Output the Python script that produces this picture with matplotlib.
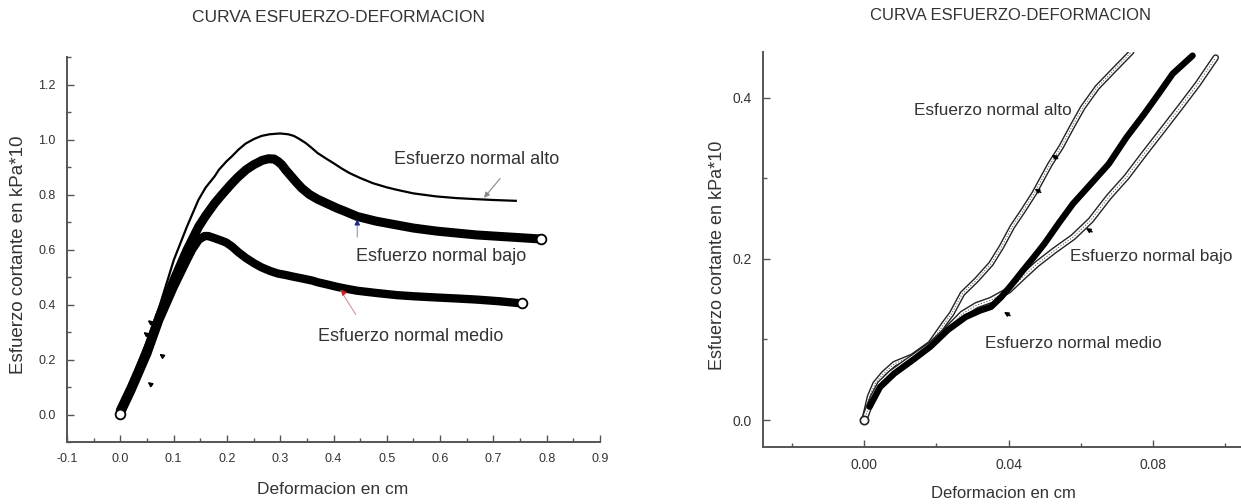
import matplotlib
matplotlib.use('Agg')
import matplotlib.pyplot as plt
from matplotlib.ticker import MultipleLocator, FormatStrFormatter

plt.rcParams['font.family'] = ['Liberation Sans', 'DejaVu Sans']
plt.rcParams['axes.unicode_minus'] = False

TITLE = "CURVA ESFUERZO-DEFORMACION"
XLABEL = "Deformacion en cm"
YLABEL = "Esfuerzo cortante en kPa*10"
LBL_ALTO = "Esfuerzo normal alto"
LBL_BAJO = "Esfuerzo normal bajo"
LBL_MEDIO = "Esfuerzo normal medio"

# ---------------- left panel data (full test) ----------------
alto_x = [0.0, 0.021, 0.0506, 0.073, 0.1004, 0.125, 0.1465, 0.16, 0.177, 0.185, 0.199, 0.21,
          0.2216, 0.235, 0.251, 0.265, 0.28, 0.2996, 0.315, 0.3257, 0.335, 0.348, 0.36, 0.370,
          0.385, 0.400, 0.415, 0.430, 0.45, 0.474, 0.5, 0.519, 0.55, 0.593, 0.63, 0.668,
          0.7, 0.742]
alto_y = [0.0, 0.124, 0.27, 0.39, 0.562, 0.683, 0.78, 0.825, 0.866, 0.89, 0.92, 0.94,
          0.963, 0.985, 1.002, 1.013, 1.019, 1.022, 1.019, 1.013, 1.003, 0.987, 0.968, 0.951,
          0.932, 0.914, 0.895, 0.878, 0.86, 0.841, 0.826, 0.817, 0.804, 0.793, 0.787, 0.783,
          0.780, 0.777]

bajo_x = [0.0, 0.0208, 0.0506, 0.073, 0.1004, 0.125, 0.147, 0.16, 0.177, 0.19, 0.2067, 0.22,
          0.236, 0.25, 0.266, 0.278, 0.2885, 0.296, 0.303, 0.31, 0.318, 0.33, 0.3405, 0.355,
          0.370, 0.39, 0.407, 0.42, 0.4446, 0.48, 0.519, 0.55, 0.593, 0.63, 0.668, 0.7,
          0.742, 0.790]
bajo_y = [0.015, 0.0997, 0.233, 0.355, 0.489, 0.598, 0.683, 0.722, 0.768, 0.798, 0.835, 0.862,
          0.89, 0.908, 0.924, 0.93, 0.929, 0.92, 0.908, 0.89, 0.872, 0.845, 0.823, 0.80,
          0.783, 0.765, 0.750, 0.74, 0.72, 0.703, 0.689, 0.678, 0.667, 0.66, 0.653, 0.649,
          0.644, 0.638]

medio_x = [0.0, 0.0208, 0.0506, 0.073, 0.1004, 0.125, 0.135, 0.147, 0.158, 0.165, 0.177, 0.19,
           0.199, 0.21, 0.2216, 0.235, 0.251, 0.265, 0.281, 0.295, 0.311, 0.325, 0.3405,
           0.36, 0.370, 0.39, 0.407, 0.425, 0.4446, 0.48, 0.519, 0.55, 0.593, 0.63, 0.668,
           0.71, 0.753]
medio_y = [0.002, 0.0875, 0.221, 0.343, 0.464, 0.562, 0.60, 0.635, 0.649, 0.649, 0.641, 0.632,
           0.625, 0.61, 0.590, 0.57, 0.550, 0.535, 0.522, 0.513, 0.507, 0.501, 0.495,
           0.487, 0.481, 0.472, 0.464, 0.457, 0.450, 0.442, 0.434, 0.43, 0.4255, 0.422, 0.418,
           0.412, 0.404]

# small stray arrow marks visible next to the curves (x, y)
left_marks_x = [0.047, 0.039, 0.069, 0.047]
left_marks_y = [0.349, 0.306, 0.227, 0.124]

# ---------------- right panel data (initial zone) ----------------
r_alto_x = [0.0, 0.0015, 0.003, 0.0054, 0.0084, 0.0133, 0.0183, 0.0222, 0.0242, 0.0272, 0.0311,
            0.0351, 0.038, 0.041, 0.044, 0.047, 0.049, 0.0515, 0.0545, 0.0575, 0.0605, 0.0645,
            0.069, 0.074]
r_alto_y = [0.0, 0.029, 0.045, 0.058, 0.070, 0.079, 0.095, 0.120, 0.132, 0.157, 0.174,
            0.194, 0.215, 0.240, 0.260, 0.281, 0.2975, 0.318, 0.339, 0.364, 0.388, 0.413,
            0.434, 0.457]

r_medio_x = [0.0015, 0.0044, 0.0084, 0.0133, 0.0183, 0.0232, 0.0281, 0.0321, 0.0351, 0.038,
             0.041, 0.044, 0.047, 0.0499, 0.0538, 0.0578, 0.0627, 0.0677, 0.0726, 0.0775,
             0.0815, 0.0854, 0.0909]
r_medio_y = [0.0165, 0.041, 0.058, 0.074, 0.091, 0.112, 0.128, 0.136, 0.1405, 0.153,
             0.169, 0.186, 0.2025, 0.219, 0.244, 0.2686, 0.293, 0.318, 0.351, 0.380,
             0.405, 0.430, 0.4525]

r_bajo_x = [0.0, 0.001, 0.0025, 0.0044, 0.0074, 0.0123, 0.0183, 0.0232, 0.0272, 0.0311, 0.0351,
            0.040, 0.044, 0.0479, 0.0528, 0.0578, 0.0627, 0.0677, 0.0726, 0.0775, 0.0825,
            0.0874, 0.0923, 0.0973]
r_bajo_y = [0.0, 0.0124, 0.029, 0.045, 0.058, 0.074, 0.093, 0.1136, 0.132, 0.1426, 0.149,
            0.161, 0.178, 0.194, 0.211, 0.227, 0.248, 0.277, 0.3016, 0.3306, 0.3595,
            0.388, 0.417, 0.450]

right_marks_x = [0.0512, 0.0465, 0.0607, 0.038]
right_marks_y = [0.331, 0.289, 0.240, 0.136]

TXT = '#333333'
SP = '#555555'

fig = plt.figure(figsize=(12.41, 5.04), dpi=100)
W, H = 1241.0, 504.0


def px_axes(l, t, r, b):
    return fig.add_axes([l / W, 1 - b / H, (r - l) / W, (b - t) / H])


def style(ax, fs):
    for s in ('top', 'right'):
        ax.spines[s].set_visible(False)
    for s in ('left', 'bottom'):
        ax.spines[s].set_color(SP)
        ax.spines[s].set_linewidth(1.4)
    ax.tick_params(which='both', direction='in', colors=SP, labelcolor=TXT, labelsize=fs, width=1.0)
    ax.tick_params(which='major', length=5, pad=8)
    ax.tick_params(which='minor', length=3)


# ---------------- left axes ----------------
ax1 = px_axes(67, 57, 600, 442)
style(ax1, 9)
ax1.set_xlim(-0.1, 0.9)
ax1.set_ylim(-0.1, 1.3)
ax1.xaxis.set_major_locator(MultipleLocator(0.1))
ax1.xaxis.set_minor_locator(MultipleLocator(0.05))
ax1.yaxis.set_minor_locator(MultipleLocator(0.1))
ax1.xaxis.set_major_formatter(FormatStrFormatter('%.1f'))
ax1.yaxis.set_major_formatter(FormatStrFormatter('%.1f'))
ax1.set_yticks([0.0, 0.2, 0.4, 0.6, 0.8, 1.0, 1.2])

ax1.plot(medio_x, medio_y, color='black', lw=6, solid_capstyle='round', solid_joinstyle='round')
ax1.plot(bajo_x, bajo_y, color='black', lw=6.5, solid_capstyle='round', solid_joinstyle='round')
ax1.plot(alto_x, alto_y, color='black', lw=1.6, solid_joinstyle='round')
ax1.plot([medio_x[0], medio_x[-1]], [medio_y[0], medio_y[-1]], ls='none', marker='o', ms=7,
         mfc='white', mec='black', mew=1.3)
ax1.plot([bajo_x[-1]], [bajo_y[-1]], ls='none', marker='o', ms=7, mfc='white', mec='black', mew=1.3)
for mx, my in zip(left_marks_x, left_marks_y):
    ax1.annotate('', xy=(mx, my), xytext=(mx + 0.014, my - 0.02),
                 arrowprops=dict(arrowstyle='-|>', color='black', lw=1.2, mutation_scale=6))

fs_ann1 = 13
ax1.text(0.668, 0.929, LBL_ALTO, ha='center', va='center', fontsize=fs_ann1, color=TXT)
ax1.text(0.601, 0.574, LBL_BAJO, ha='center', va='center', fontsize=fs_ann1, color=TXT)
ax1.text(0.545, 0.282, LBL_MEDIO, ha='center', va='center', fontsize=fs_ann1, color=TXT)
ax1.annotate('', xy=(0.679, 0.78), xytext=(0.716, 0.866),
             arrowprops=dict(arrowstyle='-|>', color='#888888', lw=0.8, mutation_scale=8))
ax1.annotate('', xy=(0.4446, 0.714), xytext=(0.4446, 0.635),
             arrowprops=dict(arrowstyle='-', color='#8899cc', lw=0.8))
ax1.annotate('', xy=(0.4446, 0.72), xytext=(0.4446, 0.69),
             arrowprops=dict(arrowstyle='-|>', color='#1a2a8a', lw=0.8, mutation_scale=8))
ax1.annotate('', xy=(0.411, 0.458), xytext=(0.4446, 0.355),
             arrowprops=dict(arrowstyle='-', color='#cc9999', lw=0.8))
ax1.annotate('', xy=(0.411, 0.463), xytext=(0.42, 0.44),
             arrowprops=dict(arrowstyle='-|>', color='#cc2222', lw=0.8, mutation_scale=8))

# ---------------- right axes ----------------
ax2 = px_axes(763, 52, 1241, 447)
style(ax2, 10)
ax2.set_xlim(-0.028, 0.1043)
ax2.set_ylim(-0.0335, 0.457)
ax2.xaxis.set_major_locator(MultipleLocator(0.04))
ax2.xaxis.set_minor_locator(MultipleLocator(0.02))
ax2.yaxis.set_major_locator(MultipleLocator(0.2))
ax2.yaxis.set_minor_locator(MultipleLocator(0.1))
ax2.xaxis.set_major_formatter(FormatStrFormatter('%.2f'))
ax2.yaxis.set_major_formatter(FormatStrFormatter('%.1f'))

# open-circle chains: dark outline with light core
for xs, ys, w in ((r_alto_x, r_alto_y, 4.2), (r_bajo_x, r_bajo_y, 4.8)):
    ax2.plot(xs, ys, color='#222222', lw=w, solid_capstyle='round', solid_joinstyle='round')
    ax2.plot(xs, ys, color='white', lw=w - 2.0, solid_capstyle='round', solid_joinstyle='round')
    ax2.plot(xs, ys, color='#555555', lw=0.7, ls=(0, (1.2, 1.8)))
ax2.plot(r_medio_x, r_medio_y, color='black', lw=4.6, solid_capstyle='round', solid_joinstyle='round')
ax2.plot([r_alto_x[0]], [r_alto_y[0]], ls='none', marker='o', ms=6, mfc='white', mec='#222222', mew=1.2)
for mx, my in zip(right_marks_x, right_marks_y):
    ax2.annotate('', xy=(mx, my), xytext=(mx + 0.003, my - 0.008),
                 arrowprops=dict(arrowstyle='-|>', color='black', lw=1.2, mutation_scale=6))

fs_ann2 = 12.3
ax2.text(0.0356, 0.384, LBL_ALTO, ha='center', va='center', fontsize=fs_ann2, color=TXT)
ax2.text(0.0795, 0.2025, LBL_BAJO, ha='center', va='center', fontsize=fs_ann2, color=TXT)
ax2.text(0.0578, 0.095, LBL_MEDIO, ha='center', va='center', fontsize=fs_ann2, color=TXT)

# ---------------- titles and axis labels ----------------
fig.text(338 / W, 1 - 17 / H, TITLE, ha='center', va='center', fontsize=12.5, color=TXT)
fig.text(1011 / W, 1 - 15 / H, TITLE, ha='center', va='center', fontsize=12, color=TXT)
fig.text(333 / W, 1 - 489 / H, XLABEL, ha='center', va='center', fontsize=12.5, color=TXT)
fig.text(1003 / W, 1 - 493 / H, XLABEL, ha='center', va='center', fontsize=12, color=TXT)
fig.text(19 / W, 1 - 255 / H, YLABEL, ha='center', va='center', rotation=90, fontsize=13.5, color=TXT)
fig.text(717 / W, 1 - 255 / H, YLABEL, ha='center', va='center', rotation=90, fontsize=13, color=TXT)

fig.savefig('out.png', dpi=100)
